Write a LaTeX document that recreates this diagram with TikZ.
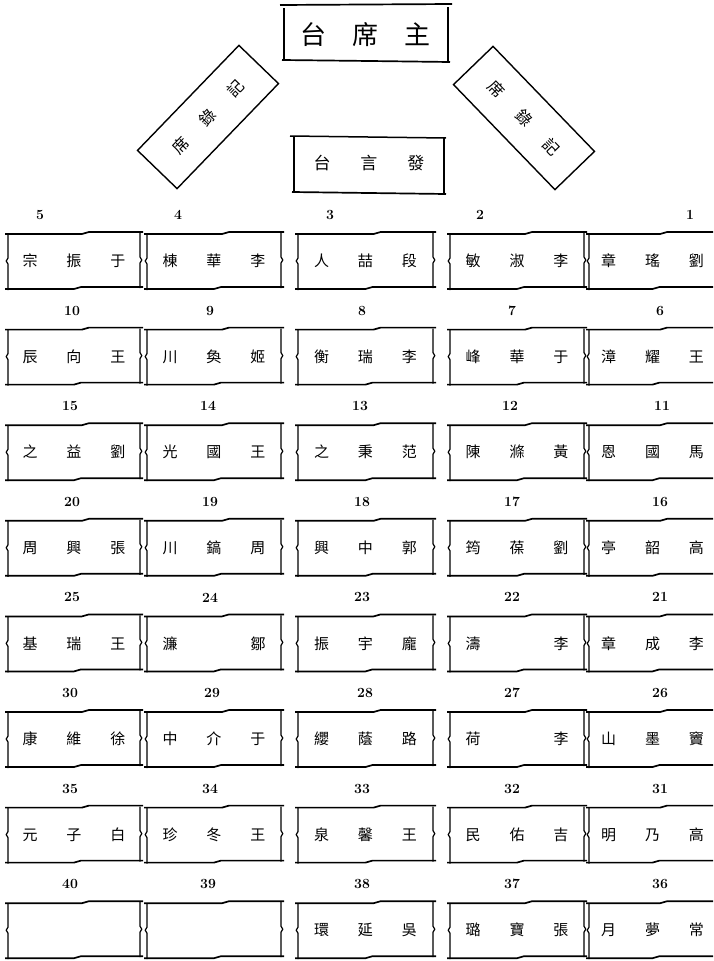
\documentclass[tikz,border=0pt]{standalone}
\usepackage{fontspec}
\newfontfamily\cjk{Noto Sans CJK TC}
\tikzset{
  edge/.style={line width=1.7pt, line join=round},
  side/.style={line width=1.2pt, line join=round},
  num/.style={font=\bfseries\fontsize{14}{14}\selectfont, inner sep=0pt},
  seattext/.style={font=\cjk\fontsize{15}{15}\selectfont, inner sep=0pt},
  bigtext/.style={font=\cjk\fontsize{26}{26}\selectfont, inner sep=0pt},
  midtext/.style={font=\cjk\fontsize{17}{17}\selectfont, inner sep=0pt},
  rotbox/.style={draw, line width=1.4pt, minimum width=146pt, minimum height=55pt, inner sep=0pt, font=\cjk\fontsize{16}{16}\selectfont}
}
\newcommand\three[3]{\makebox[44pt]{#1}\makebox[44pt]{#2}\makebox[44pt]{#3}}
\newcommand\seatframe[3]{%
  \draw[edge] ({#1-3},{#3+2}) -- ({#1+0.56*(#2-#1)},{#3+2}) -- ({#1+0.56*(#2-#1)+7},{#3}) -- ({#2+3},{#3});
  \draw[edge] ({#1-3},{#3+57}) -- ({#1+0.5*(#2-#1)},{#3+57}) -- ({#1+0.5*(#2-#1)+7},{#3+55}) -- ({#2+3},{#3+55});
  \draw[side] (#1,{#3+2}) -- (#1,{#3+26}) -- ({#1-1.8},{#3+29}) -- (#1,{#3+32}) -- (#1,{#3+58});
  \draw[side] (#2,{#3+1}) -- (#2,{#3+25}) -- ({#2+1.8},{#3+28}) -- (#2,{#3+31}) -- (#2,{#3+56});
}
% #1 name, #2 x1, #3 x2, #4 label y, #5 label, #6 label x, #7-#9 characters
\newcommand\seat[9]{%
  \node[num] (#1n) at (#6,#4) {#5};
  \node[seattext] (#1) at ({(#2+#3)/2},{#4+46}) {\three{#7}{#8}{#9}};
  \seatframe{#2}{#3}{#4+17}
}
\begin{document}
\begin{tikzpicture}[x=1pt,y=-1pt]
\useasboundingbox (0,0) rectangle (713,961);
\clip (0,0) rectangle (713,961);

% chairman table
\node[bigtext] (chair) at (365,35) {\makebox[52pt]{台}\makebox[52pt]{席}\makebox[52pt]{主}};
\draw[line width=1.7pt] (280,5) -- (452,4);
\draw[line width=1.3pt] (284,8) -- (284,60);
\draw[line width=1.3pt] (448,7) -- (448,62);
\draw[line width=1.7pt] (282,60) -- (370,61) -- (450,62);

% recorders
\node[rotbox, rotate=46] (recL) at (208,117) {\makebox[40pt]{席}\makebox[40pt]{錄}\makebox[40pt]{記}};
\node[rotbox, rotate=-46] (recR) at (524,118) {\makebox[40pt]{席}\makebox[40pt]{錄}\makebox[40pt]{記}};

% speaker table
\node[midtext] (speak) at (369,163) {\makebox[47pt]{台}\makebox[47pt]{言}\makebox[47pt]{發}};
\draw[line width=1.5pt] (290,136) -- (446,138);
\draw[line width=1.2pt] (294,137) -- (294,192);
\draw[line width=1.2pt] (444,138) -- (444,193);
\draw[line width=1.7pt] (292,192) -- (446,194);

% row 1
\seat{s5}{8}{140}{215}{5}{40}{宗}{振}{于}
\seat{s4}{147}{281}{215}{4}{178}{棟}{華}{李}
\seat{s3}{298}{433}{215}{3}{330}{人}{喆}{段}
\seat{s2}{450}{584}{215}{2}{480}{敏}{淑}{李}
\seat{s1}{589}{716}{215}{1}{690}{章}{瑤}{劉}
% row 2
\seat{s10}{8}{140}{310.6}{10}{72}{辰}{向}{王}
\seat{s9}{147}{281}{310.6}{9}{210}{川}{奐}{姬}
\seat{s8}{298}{433}{310.6}{8}{362}{衡}{瑞}{李}
\seat{s7}{450}{584}{310.6}{7}{512}{峰}{華}{于}
\seat{s6}{589}{716}{310.6}{6}{660}{漳}{耀}{王}
% row 3
\seat{s15}{8}{140}{406.2}{15}{70}{之}{益}{劉}
\seat{s14}{147}{281}{406.2}{14}{208}{光}{國}{王}
\seat{s13}{298}{433}{406.2}{13}{360}{之}{秉}{范}
\seat{s12}{450}{584}{406.2}{12}{510}{陳}{滌}{黃}
\seat{s11}{589}{716}{406.2}{11}{662}{恩}{國}{馬}
% row 4
\seat{s20}{8}{140}{501.8}{20}{72}{周}{興}{張}
\seat{s19}{147}{281}{501.8}{19}{210}{川}{鎬}{周}
\seat{s18}{298}{433}{501.8}{18}{362}{興}{中}{郭}
\seat{s17}{450}{584}{501.8}{17}{512}{筠}{葆}{劉}
\seat{s16}{589}{716}{501.8}{16}{660}{亭}{韶}{高}
% row 5
\seat{s25}{8}{140}{597.4}{25}{72}{基}{瑞}{王}
\seat{s24}{147}{281}{597.4}{24}{210}{濂}{}{鄒}
\seat{s23}{298}{433}{597.4}{23}{362}{振}{宇}{龐}
\seat{s22}{450}{584}{597.4}{22}{512}{濤}{}{李}
\seat{s21}{589}{716}{597.4}{21}{660}{章}{成}{李}
% row 6
\seat{s30}{8}{140}{693}{30}{70}{康}{維}{徐}
\seat{s29}{147}{281}{693}{29}{212}{中}{介}{于}
\seat{s28}{298}{433}{693}{28}{365}{纓}{蔭}{路}
\seat{s27}{450}{584}{693}{27}{512}{荷}{}{李}
\seat{s26}{589}{716}{693}{26}{660}{山}{墨}{竇}
% row 7
\seat{s35}{8}{140}{788.6}{35}{70}{元}{子}{白}
\seat{s34}{147}{281}{788.6}{34}{210}{珍}{冬}{王}
\seat{s33}{298}{433}{788.6}{33}{362}{泉}{馨}{王}
\seat{s32}{450}{584}{788.6}{32}{512}{民}{佑}{吉}
\seat{s31}{589}{716}{788.6}{31}{660}{明}{乃}{高}
% row 8
\seat{s40}{8}{140}{884.2}{40}{70}{}{}{}
\seat{s39}{147}{281}{884.2}{39}{208}{}{}{}
\seat{s38}{298}{433}{884.2}{38}{362}{環}{延}{吳}
\seat{s37}{450}{584}{884.2}{37}{512}{璐}{寶}{張}
\seat{s36}{589}{716}{884.2}{36}{660}{月}{夢}{常}
\end{tikzpicture}
\end{document}
